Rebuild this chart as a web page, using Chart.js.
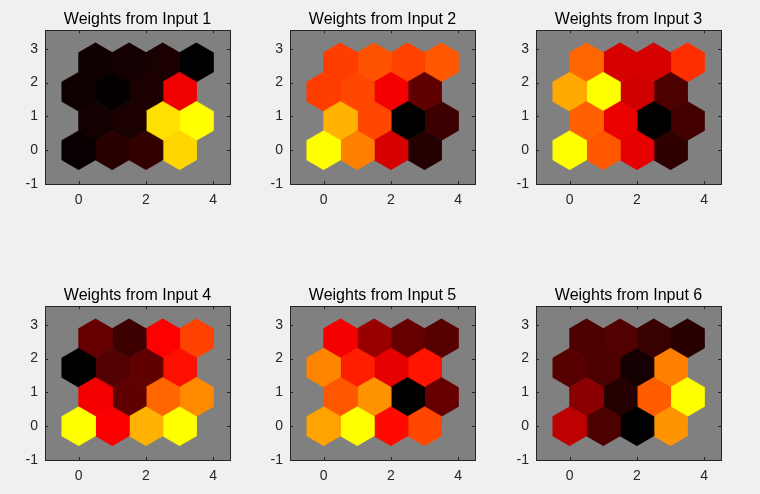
<!DOCTYPE html>
<html>
<head>
<meta charset="utf-8">
<script src="https://cdn.jsdelivr.net/npm/chart.js@4"></script>
<style>
  body { margin: 0; background: #f0f0f0; width: 760px; height: 494px; overflow: hidden; position: relative; }
  .cell { position: absolute; width: 245px; height: 215px; }
</style>
</head>
<body>
<div class="cell" style="left:0px;top:0px"><canvas id="c0"></canvas></div>
<div class="cell" style="left:245px;top:0px"><canvas id="c1"></canvas></div>
<div class="cell" style="left:491px;top:0px"><canvas id="c2"></canvas></div>
<div class="cell" style="left:0px;top:276px"><canvas id="c3"></canvas></div>
<div class="cell" style="left:245px;top:276px"><canvas id="c4"></canvas></div>
<div class="cell" style="left:491px;top:276px"><canvas id="c5"></canvas></div>
<script>
// neuron positions of the 4x4 hex grid
const nodeX = [0, 1, 2, 3, 0.5, 1.5, 2.5, 3.5, 0, 1, 2, 3, 0.5, 1.5, 2.5, 3.5];
const nodeY = [0, 0, 0, 0, 0.866, 0.866, 0.866, 0.866, 1.732, 1.732, 1.732, 1.732, 2.598, 2.598, 2.598, 2.598];

const titles = ['Weights from Input 1', 'Weights from Input 2', 'Weights from Input 3',
                'Weights from Input 4', 'Weights from Input 5', 'Weights from Input 6'];

// normalised weights (0 = black, 0.5 = red, 1 = yellow), same order as nodes
const input1 = [0.015, 0.08, 0.10, 0.92, 0.04, 0.05, 0.94, 1.00, 0.03, 0.01, 0.05, 0.47, 0.03, 0.04, 0.05, 0.00];
const input2 = [1.00, 0.75, 0.42, 0.07, 0.85, 0.64, 0.00, 0.12, 0.62, 0.64, 0.48, 0.19, 0.62, 0.66, 0.63, 0.67];
const input3 = [1.00, 0.67, 0.45, 0.09, 0.69, 0.46, 0.00, 0.13, 0.83, 1.00, 0.41, 0.15, 0.70, 0.42, 0.42, 0.59];
const input4 = [1.00, 0.49, 0.85, 1.00, 0.48, 0.19, 0.70, 0.77, 0.00, 0.16, 0.19, 0.53, 0.20, 0.12, 0.50, 0.63];
const input5 = [0.82, 1.00, 0.52, 0.64, 0.67, 0.79, 0.00, 0.20, 0.76, 0.56, 0.45, 0.54, 0.48, 0.30, 0.20, 0.17];
const input6 = [0.37, 0.15, 0.00, 0.79, 0.27, 0.07, 0.68, 1.00, 0.17, 0.15, 0.04, 0.75, 0.15, 0.16, 0.11, 0.08];
const weights = [input1, input2, input3, input4, input5, input6];

const xTicks = [0, 2, 4];
const yTicks = [-1, 0, 1, 2, 3];

// hot-like colormap, black -> red -> yellow
function hot(v) {
    const r = Math.round(Math.min(1, 2 * v) * 255);
    const g = Math.round(Math.max(0, 2 * v - 1) * 255);
    return 'rgb(' + r + ',' + g + ',0)';
}

const R = 0.5 / Math.cos(Math.PI / 6);
const hexAngles = [90, 30, -30, -90, -150, 150, 90];

function hexDatasets(vals) {
    return vals.map((v, i) => {
        const col = hot(v);
        return {
            data: hexAngles.map(a => ({
                x: nodeX[i] + R * Math.cos(a * Math.PI / 180),
                y: nodeY[i] + R * Math.sin(a * Math.PI / 180)
            })),
            showLine: true,
            fill: 'shape',
            backgroundColor: col,
            borderColor: col,
            borderWidth: 0.6,
            pointRadius: 0,
            tension: 0
        };
    });
}

// gray axes background, box and inward ticks like MATLAB
const matlabAxes = {
    id: 'matlabAxes',
    beforeDatasetsDraw(chart) {
        const a = chart.chartArea, ctx = chart.ctx;
        ctx.save();
        ctx.fillStyle = '#808080';
        ctx.fillRect(a.left, a.top, a.right - a.left, a.bottom - a.top);
        ctx.restore();
    },
    afterDraw(chart) {
        const a = chart.chartArea, ctx = chart.ctx;
        const xs = chart.scales.x, ys = chart.scales.y;
        ctx.save();
        ctx.strokeStyle = '#262626';
        ctx.lineWidth = 1;
        ctx.strokeRect(Math.round(a.left) + 0.5, Math.round(a.top) + 0.5,
            Math.round(a.right - a.left), Math.round(a.bottom - a.top));
        ctx.beginPath();
        xTicks.forEach(t => {
            const px = Math.round(xs.getPixelForValue(t)) + 0.5;
            ctx.moveTo(px, a.bottom); ctx.lineTo(px, a.bottom - 3);
            ctx.moveTo(px, a.top); ctx.lineTo(px, a.top + 3);
        });
        yTicks.forEach(t => {
            const py = Math.round(ys.getPixelForValue(t)) + 0.5;
            ctx.moveTo(a.left, py); ctx.lineTo(a.left + 3, py);
            ctx.moveTo(a.right, py); ctx.lineTo(a.right - 3, py);
        });
        ctx.stroke();
        ctx.restore();
    }
};

const tickFont = { family: 'Liberation Sans, Arial, sans-serif', size: 14 };

weights.forEach((vals, k) => {
    new Chart(document.getElementById('c' + k), {
        type: 'scatter',
        data: { datasets: hexDatasets(vals) },
        options: {
            responsive: true,
            maintainAspectRatio: false,
            animation: false,
            events: [],
            layout: { padding: { left: 0, right: 15, top: 0, bottom: 0 } },
            plugins: {
                legend: { display: false },
                tooltip: { enabled: false },
                title: {
                    display: true,
                    text: titles[k],
                    fullSize: false,
                    color: '#000',
                    font: { family: 'Liberation Sans, Arial, sans-serif', size: 16, weight: 'normal', lineHeight: 1.2 },
                    padding: { top: 10, bottom: 1 }
                }
            },
            scales: {
                x: {
                    type: 'linear',
                    min: -1,
                    max: 4.5,
                    afterBuildTicks: s => { s.ticks = xTicks.map(v => ({ value: v })); },
                    afterFit: s => { s.height = 31; },
                    grid: { display: false, drawTicks: false },
                    border: { display: false },
                    ticks: { font: tickFont, color: '#262626', padding: 8, maxRotation: 0 }
                },
                y: {
                    type: 'linear',
                    min: -1,
                    max: 3.55,
                    afterBuildTicks: s => { s.ticks = yTicks.map(v => ({ value: v })); },
                    afterFit: s => { s.width = 45; },
                    grid: { display: false, drawTicks: false },
                    border: { display: false },
                    ticks: { font: tickFont, color: '#262626', padding: 7 }
                }
            }
        },
        plugins: [matlabAxes]
    });
});
</script>
</body>
</html>
